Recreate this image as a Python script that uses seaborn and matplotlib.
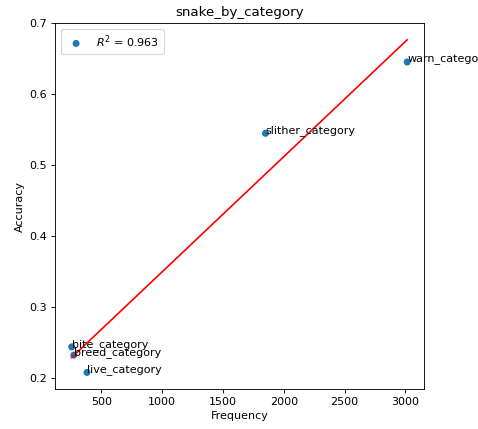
import numpy as np
import pandas as pd
import matplotlib
matplotlib.use("Agg")
import matplotlib.pyplot as plt
import seaborn as sns

categories = ["bite_category", "breed_category", "live_category", "slither_category", "warn_category"]
frequency = [258, 275, 383, 1850, 3015]
accuracy = [0.244, 0.2325, 0.208, 0.545, 0.6456]

df = pd.DataFrame({"Frequency": frequency, "Accuracy": accuracy, "category": categories})

# least-squares fit and coefficient of determination
slope, intercept = np.polyfit(df["Frequency"], df["Accuracy"], 1)
pred = slope * df["Frequency"] + intercept
ss_res = ((df["Accuracy"] - pred) ** 2).sum()
ss_tot = ((df["Accuracy"] - df["Accuracy"].mean()) ** 2).sum()
r2 = 1 - ss_res / ss_tot

DPI = 80
fig, ax = plt.subplots(figsize=(478 / DPI, 429 / DPI), dpi=DPI)
sns.scatterplot(data=df, x="Frequency", y="Accuracy", ax=ax, s=40,
                color="#1f77b4", edgecolor="none", label=f"$R^2$ = {r2:.3f}")
xs = np.array([df["Frequency"].min(), df["Frequency"].max()])
ax.plot(xs, slope * xs + intercept, color="red")
for _, row in df.iterrows():
    ax.text(row["Frequency"], row["Accuracy"], row["category"], fontsize=10)

ax.set_title("snake_by_category")
ax.set_xlabel("Frequency")
ax.set_ylabel("Accuracy")
ax.legend(loc="upper left")
fig.subplots_adjust(left=0.115, right=0.887, bottom=0.093, top=0.946)
fig.savefig("out.png", dpi=DPI)
print(slope, intercept, r2)
